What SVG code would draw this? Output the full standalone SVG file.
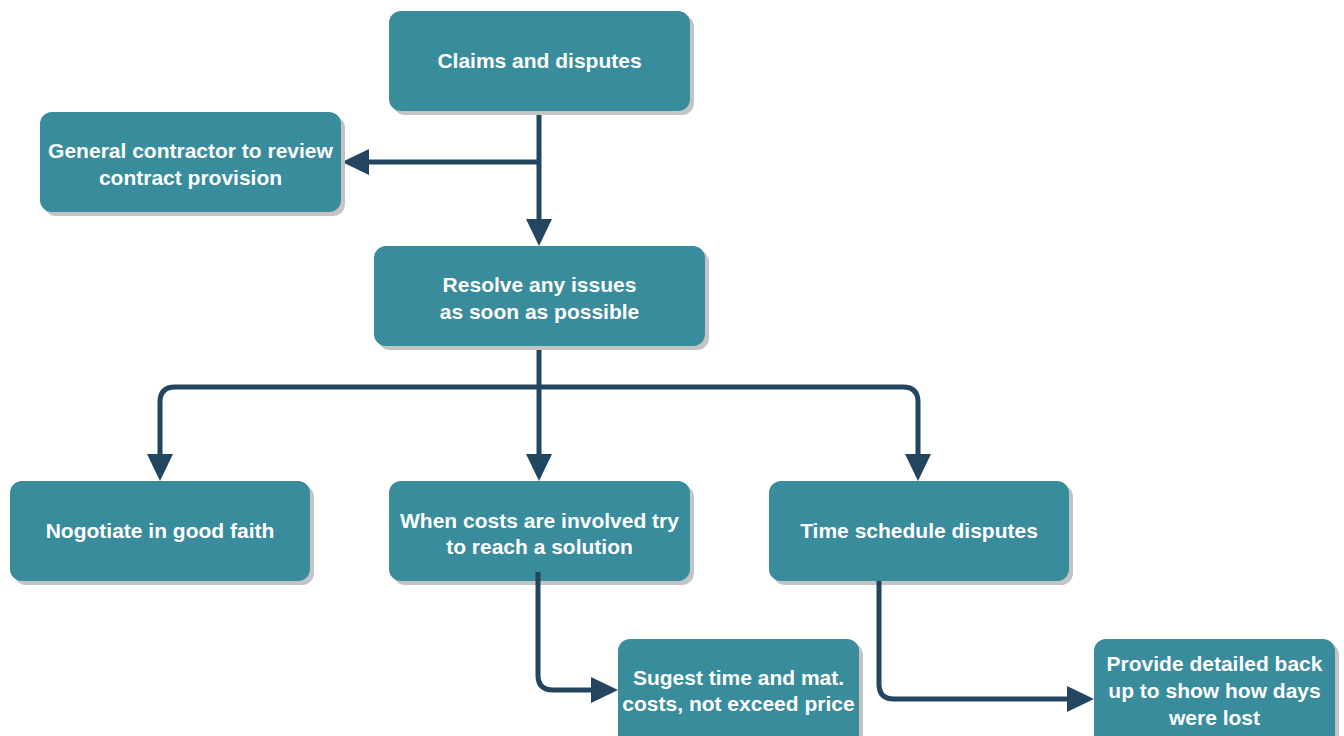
<svg xmlns="http://www.w3.org/2000/svg" width="1344" height="736" viewBox="0 0 1344 736">
  <style>
    .shadow { fill: #c4c4c4; }
    .box { fill: #388c9c; }
    .label { fill: #ffffff; font-family: "Liberation Sans", Arial, sans-serif; font-weight: bold; font-size: 21px; text-anchor: middle; }
    .link { fill: none; stroke: #23455f; stroke-width: 5; }
  </style>
  <defs>
    <marker id="arrow" markerUnits="userSpaceOnUse" markerWidth="27" markerHeight="26" refX="0" refY="13" orient="auto">
      <path d="M0,0 L27,13 L0,26 z" fill="#23455f"/>
    </marker>
  </defs>
  <rect width="1344" height="736" fill="#ffffff"/>

  <g id="connectors">
    <path class="link" d="M539,111 V219" marker-end="url(#arrow)"/>
    <path class="link" d="M539,162 H369" marker-end="url(#arrow)"/>
    <path class="link" d="M539,346 V454" marker-end="url(#arrow)"/>
    <path class="link" d="M539,387 H175 Q160,387 160,402 V454" marker-end="url(#arrow)"/>
    <path class="link" d="M539,387 H903 Q918,387 918,402 V454" marker-end="url(#arrow)"/>
  </g>

  <g id="claims">
    <rect class="shadow" x="393" y="15" width="301" height="100" rx="12"/>
    <rect class="box" x="389" y="11" width="301" height="100" rx="12"/>
    <text class="label" x="539.5" y="68">Claims and disputes</text>
  </g>

  <g id="review">
    <rect class="shadow" x="44" y="116" width="301" height="100" rx="12"/>
    <rect class="box" x="40" y="112" width="301" height="100" rx="12"/>
    <text class="label" x="190.5" y="158">General contractor to review</text>
    <text class="label" x="190.5" y="185">contract provision</text>
  </g>

  <g id="resolve">
    <rect class="shadow" x="378" y="250" width="331" height="100" rx="12"/>
    <rect class="box" x="374" y="246" width="331" height="100" rx="12"/>
    <text class="label" x="539.5" y="292">Resolve any issues</text>
    <text class="label" x="539.5" y="319">as soon as possible</text>
  </g>

  <g id="negotiate">
    <rect class="shadow" x="14" y="485" width="300" height="100" rx="12"/>
    <rect class="box" x="10" y="481" width="300" height="100" rx="12"/>
    <text class="label" x="160" y="538">Nogotiate in good faith</text>
  </g>

  <g id="costs">
    <rect class="shadow" x="393" y="485" width="301" height="100" rx="12"/>
    <rect class="box" x="389" y="481" width="301" height="100" rx="12"/>
    <text class="label" x="539.5" y="528">When costs are involved try</text>
    <text class="label" x="539.5" y="554">to reach a solution</text>
  </g>

  <g id="schedule">
    <rect class="shadow" x="773" y="485" width="300" height="100" rx="12"/>
    <rect class="box" x="769" y="481" width="300" height="100" rx="12"/>
    <text class="label" x="919" y="538">Time schedule disputes</text>
  </g>

  <g id="suggest">
    <rect class="shadow" x="622" y="643" width="241" height="110" rx="12"/>
    <rect class="box" x="618" y="639" width="241" height="110" rx="12"/>
    <text class="label" x="738.5" y="685">Sugest time and mat.</text>
    <text class="label" x="738.5" y="711">costs, not exceed price</text>
  </g>

  <g id="backup">
    <rect class="shadow" x="1098" y="643" width="241" height="110" rx="12"/>
    <rect class="box" x="1094" y="639" width="241" height="110" rx="12"/>
    <text class="label" x="1214.5" y="671">Provide detailed back</text>
    <text class="label" x="1214.5" y="698">up to show how days</text>
    <text class="label" x="1214.5" y="725">were lost</text>
  </g>

  <g id="connectors-lower">
    <path class="link" d="M538,572 V675 Q538,690 553,690 H591" marker-end="url(#arrow)"/>
    <path class="link" d="M879,581 V684 Q879,699 894,699 H1067" marker-end="url(#arrow)"/>
  </g>
</svg>
